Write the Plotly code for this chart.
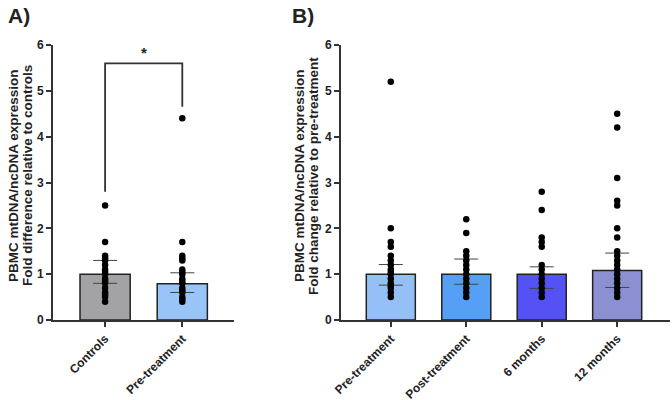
import plotly.graph_objects as go

# ---- Panel A data ----
a_cats = ["Controls", "Pre-treatment"]
a_means = [1.0, 0.79]
a_upper = [1.30, 1.03]
a_lower = [0.80, 0.60]
a_colors = ["#A3A3A6", "#99C4F8"]
a_points = [
    [2.5, 1.7, 1.4, 1.35, 1.3, 1.2, 1.1, 1.05, 1.0, 0.9, 0.85, 0.8, 0.7, 0.6, 0.55, 0.5, 0.4],
    [4.4, 1.7, 1.4, 1.35, 1.3, 1.1, 1.05, 1.0, 0.9, 0.85, 0.8, 0.7, 0.65, 0.6, 0.5, 0.45, 0.4],
]
a_sig = {"left_y": 2.8, "top_y": 5.6, "right_y": 4.65, "label": "*"}
a_title = ["PBMC mtDNA/ncDNA expression", "Fold difference relative to controls"]

# ---- Panel B data ----
b_cats = ["Pre-treatment", "Post-treatment", "6 months", "12 months"]
b_means = [1.0, 1.0, 1.0, 1.08]
b_upper = [1.21, 1.33, 1.16, 1.46]
b_lower = [0.76, 0.78, 0.69, 0.71]
b_colors = ["#94C0F7", "#559FF7", "#5452F5", "#8A90D2"]
b_points = [
    [5.2, 2.0, 1.7, 1.6, 1.4, 1.3, 1.2, 1.1, 1.05, 1.0, 0.9, 0.8, 0.75, 0.7, 0.6, 0.5],
    [2.2, 1.9, 1.5, 1.4, 1.3, 1.2, 1.1, 1.0, 0.9, 0.8, 0.7, 0.6, 0.5],
    [2.8, 2.4, 1.8, 1.7, 1.6, 1.2, 1.1, 1.0, 0.9, 0.8, 0.7, 0.6, 0.5],
    [4.5, 4.2, 3.1, 2.6, 2.5, 2.0, 1.8, 1.5, 1.4, 1.3, 1.2, 1.1, 1.0, 0.9, 0.8, 0.7, 0.6, 0.5],
]
b_title = ["PBMC mtDNA/ncDNA expression", "Fold change relative to pre-treatment"]

FONT = "Arial, Liberation Sans, sans-serif"
AXC = "#333333"
TXT = "#222222"

fig = go.Figure()


def add_panel(cats, means, upper, lower, colors, points, xa, ya):
    fig.add_trace(go.Bar(
        x=cats, y=means, marker=dict(color=colors, line=dict(color="#222222", width=1.5)),
        width=0.65, xaxis=xa, yaxis=ya, showlegend=False,
        error_y=dict(type="data", symmetric=False,
                     array=[u - m for u, m in zip(upper, means)],
                     arrayminus=[m - l for m, l in zip(means, lower)],
                     color="#444444", thickness=1, width=12),
    ))
    xs, ys = [], []
    for c, pts in zip(cats, points):
        xs += [c] * len(pts)
        ys += pts
    fig.add_trace(go.Scatter(
        x=xs, y=ys, mode="markers", marker=dict(color="black", size=6.5),
        xaxis=xa, yaxis=ya, showlegend=False,
    ))


add_panel(a_cats, a_means, a_upper, a_lower, a_colors, a_points, "x", "y")
add_panel(b_cats, b_means, b_upper, b_lower, b_colors, b_points, "x2", "y2")

axis_common = dict(showline=True, linecolor=AXC, linewidth=2, ticks="outside",
                   tickcolor=AXC, tickwidth=2, ticklen=5, showgrid=False, zeroline=False,
                   automargin=False,
                   tickfont=dict(family=FONT, size=12, color=TXT),
                   tickprefix="<b>", ticksuffix="</b>")

fig.update_layout(
    width=672, height=400, margin=dict(l=0, r=0, t=0, b=0, autoexpand=False),
    paper_bgcolor="white", plot_bgcolor="white",
    xaxis=dict(domain=[53 / 672, 234 / 672], range=[-0.675, 1.67], tickangle=-45, **axis_common),
    yaxis=dict(domain=[0.2, 0.8875], range=[0, 6], dtick=1, anchor="x", **axis_common),
    xaxis2=dict(domain=[341 / 672, 670 / 672], range=[-0.66, 3.7], tickangle=-45, anchor="y2", **axis_common),
    yaxis2=dict(domain=[0.2, 0.8875], range=[0, 6], dtick=1, anchor="x2", **axis_common),
)

# significance bracket
fig.add_shape(type="path", xref="x", yref="y",
              path=f"M 0,{a_sig['left_y']} L 0,{a_sig['top_y']} L 1,{a_sig['top_y']} L 1,{a_sig['right_y']}",
              line=dict(color=AXC, width=1.8))
fig.add_annotation(x=0.5, y=a_sig["top_y"], xref="x", yref="y", text=f"<b>{a_sig['label']}</b>",
                   showarrow=False, yanchor="bottom", font=dict(family=FONT, size=15, color=TXT))

# y titles (one annotation per line for tight line spacing)
for lines, xs in ((a_title, (14, 28)), (b_title, (300, 314))):
    for txt, xp in zip(lines, xs):
        fig.add_annotation(x=xp / 672, y=0.56, xref="paper", yref="paper", textangle=-90,
                           xanchor="center", yanchor="middle", text=f"<b>{txt}</b>",
                           showarrow=False, font=dict(family=FONT, size=13.5, color=TXT))

# panel labels
fig.add_annotation(x=6 / 672, y=1 - 2 / 400, xref="paper", yref="paper", text="<b>A)</b>",
                   showarrow=False, xanchor="left", yanchor="top", font=dict(family=FONT, size=21, color=TXT))
fig.add_annotation(x=290 / 672, y=1 - 2 / 400, xref="paper", yref="paper", text="<b>B)</b>",
                   showarrow=False, xanchor="left", yanchor="top", font=dict(family=FONT, size=21, color=TXT))

fig.write_html("out.html")
